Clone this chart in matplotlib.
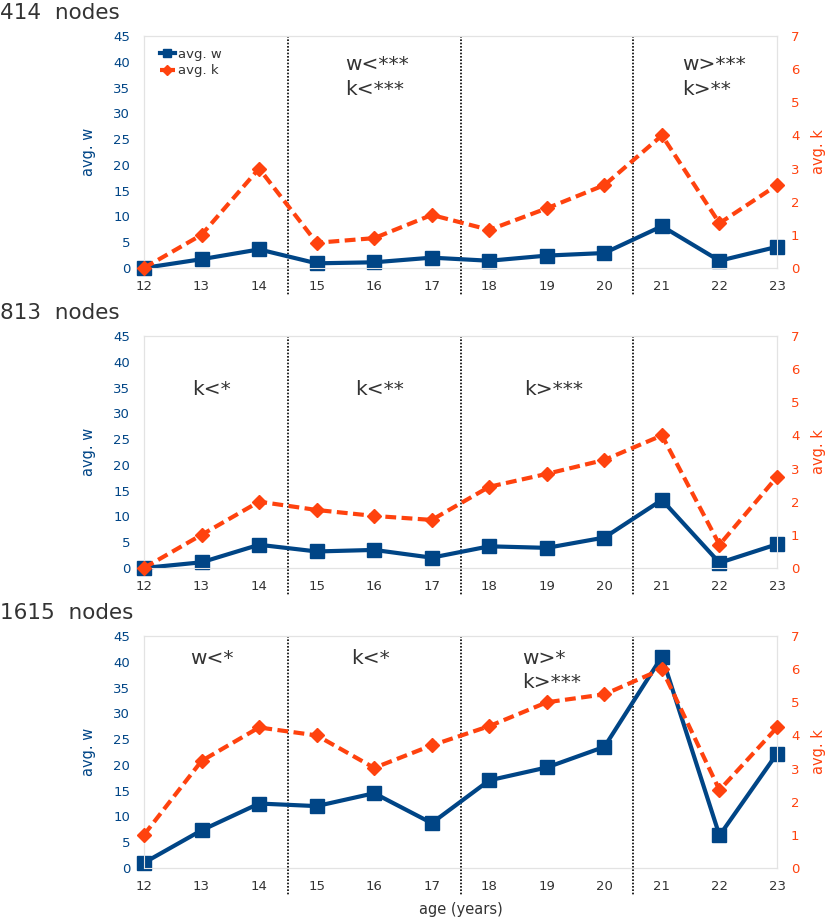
import matplotlib.pyplot as plt
from matplotlib.lines import Line2D

ages = [12, 13, 14, 15, 16, 17, 18, 19, 20, 21, 22, 23]

# panel titles
titles = ['414  nodes', '813  nodes', '1615  nodes']

# avg. w per panel
w_414 = [0, 1.7, 3.6, 0.9, 1.1, 2.0, 1.4, 2.4, 2.9, 8.1, 1.4, 4.1]
w_813 = [0, 1.1, 4.5, 3.2, 3.5, 2.0, 4.2, 3.9, 5.9, 13.2, 1.0, 4.6]
w_1615 = [1.0, 7.3, 12.5, 12.0, 14.5, 8.7, 17.0, 19.5, 23.5, 41.0, 6.3, 22.2]

# avg. k per panel
k_414 = [0, 1.0, 3.0, 0.76, 0.9, 1.6, 1.15, 1.8, 2.5, 4.0, 1.35, 2.5]
k_813 = [0, 1.0, 2.0, 1.75, 1.57, 1.45, 2.45, 2.84, 3.26, 4.0, 0.7, 2.75]
k_1615 = [1.0, 3.23, 4.24, 4.0, 3.02, 3.7, 4.28, 5.0, 5.24, 6.0, 2.35, 4.24]

# period boundaries
splits = [14.5, 17.5, 20.5]

# significance notes: (x, y in axes fraction, text)
notes_414 = [(15.5, 0.875, 'w<***'), (15.5, 0.77, 'k<***'),
             (21.35, 0.875, 'w>***'), (21.35, 0.77, 'k>**')]
notes_813 = [(12.83, 0.77, 'k<*'), (15.67, 0.77, 'k<**'), (18.6, 0.77, 'k>***')]
notes_1615 = [(12.8, 0.905, 'w<*'), (15.6, 0.905, 'k<*'),
              (18.57, 0.905, 'w>*'), (18.57, 0.80, 'k>***')]

blue = '#004586'
orange = '#ff420e'
grey = '#333333'

plt.rcParams['font.family'] = 'DejaVu Sans'

fig = plt.figure(figsize=(8.3, 9.18), dpi=100)

panels = [(titles[0], w_414, k_414, notes_414, 0.7081),
          (titles[1], w_813, k_813, notes_813, 0.3813),
          (titles[2], w_1615, k_1615, notes_1615, 0.0545)]

for i, (title, w, k, notes, bottom) in enumerate(panels):
    ax = fig.add_axes([0.1735, bottom, 0.7627, 0.2527])
    ax2 = ax.twinx()
    ax.plot(ages, w, color=blue, lw=3, marker='s', ms=10, zorder=3, clip_on=False)
    ax2.plot(ages, k, color=orange, lw=3, ls=(0, (2.6, 1.3)), marker='D', ms=7.5,
             zorder=3, clip_on=False)
    ax.set_xlim(12, 23)
    ax.set_ylim(0, 45)
    ax2.set_ylim(0, 7)
    ax.set_yticks(range(0, 46, 5))
    ax2.set_yticks(range(0, 8))
    ax.set_xticks(ages)
    for a in (ax, ax2):
        for s in a.spines.values():
            s.set_color('#e3e3e3')
        a.tick_params(length=0, labelsize=9.5)
    ax.tick_params(axis='y', colors=blue, pad=10)
    ax2.tick_params(axis='y', colors=orange, pad=10)
    ax.tick_params(axis='x', colors=grey, pad=9)
    ax.set_ylabel('avg. w', color=blue, fontsize=10.5, labelpad=12)
    ax2.set_ylabel('avg. k', color=orange, fontsize=10.5, labelpad=8)
    for xs in splits:
        ax.plot([xs, xs], [45, -5.3], color='black', lw=1.2, ls=(0, (1, 1)),
                clip_on=False, zorder=1)
    for x, y, t in notes:
        ax.text(x, y, t, transform=ax.get_xaxis_transform(), fontsize=14.5,
                color=grey, ha='left', va='center')
    fig.text(0.0, bottom + 0.2527 + 0.0145, title, fontsize=15.5,
             color=grey, ha='left', va='bottom')
    if i == 0:
        handles = [Line2D([], [], color=blue, lw=3, marker='s', ms=6),
                   Line2D([], [], color=orange, lw=3, ls=(0, (1.5, 0.8)), marker='D', ms=5)]
        ax.legend(handles, ['avg. w', 'avg. k'], loc='upper left', frameon=False,
                  fontsize=9.5, handlelength=1.2, handletextpad=0.2,
                  borderaxespad=0.3, labelspacing=0.3, labelcolor=grey,
                  bbox_to_anchor=(0.01, 0.99))
    if i == 2:
        ax.set_xlabel('age (years)', color=grey, fontsize=10.5, labelpad=6)

fig.savefig('out.png', dpi=100)
